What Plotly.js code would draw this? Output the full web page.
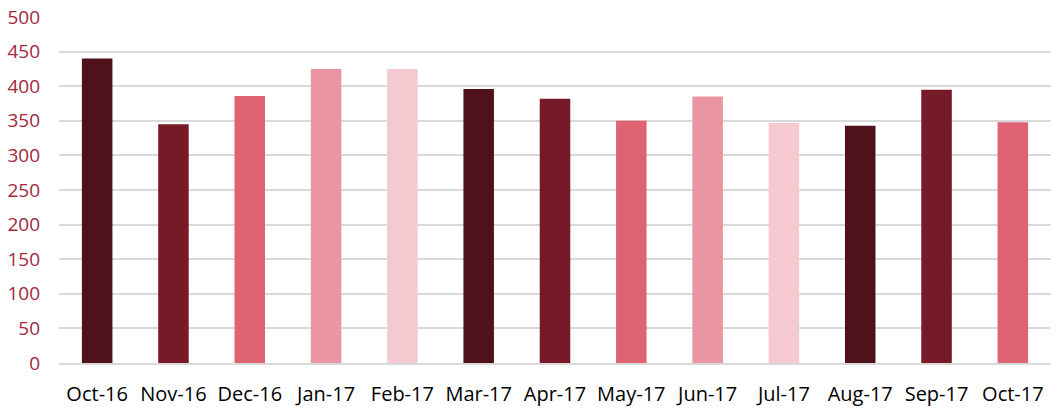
<!DOCTYPE html>
<html>
<head>
<meta charset="utf-8">
<script src="https://cdn.plot.ly/plotly-3.0.1.min.js"></script>
<style>html,body{margin:0;padding:0;background:#fff}#chart{width:1060px;height:408px}</style>
</head>
<body>
<div id="chart"></div>
<script>
const months = ["Oct-16","Nov-16","Dec-16","Jan-17","Feb-17","Mar-17","Apr-17","May-17","Jun-17","Jul-17","Aug-17","Sep-17","Oct-17"];
const values = [440, 345, 386, 425, 425, 396, 382, 350, 385, 347, 343, 395, 348];
const palette = ["#50121A", "#771A28", "#DE6474", "#E996A2", "#F4CAD0"];
const barColors = months.map((m, i) => palette[i % palette.length]);

Plotly.newPlot("chart", [{
  type: "bar",
  x: months,
  y: values,
  marker: {color: barColors},
  hoverinfo: "x+y"
}], {
  width: 1060, height: 408,
  margin: {l: 59, r: 9, t: 17, b: 45, pad: 0},
  bargap: 0.6,
  paper_bgcolor: "#fff", plot_bgcolor: "#fff",
  font: {family: "Open Sans, sans-serif", size: 19},
  showlegend: false,
  xaxis: {
    type: "category",
    tickfont: {color: "#000", size: 20},
    showgrid: false, showline: true, linecolor: "#D9D9D9", linewidth: 2,
    ticks: "", ticklabelstandoff: 12
  },
  yaxis: {
    range: [0, 500], tickvals: [0,50,100,150,200,250,300,350,400,450,500],
    tickfont: {color: "#A0283A", size: 19},
    showgrid: true, gridcolor: "#D9D9D9", gridwidth: 2,
    zeroline: false, showline: false, ticks: "", ticklabelstandoff: 18
  }
}, {displayModeBar: false, staticPlot: true});
</script>
</body>
</html>
